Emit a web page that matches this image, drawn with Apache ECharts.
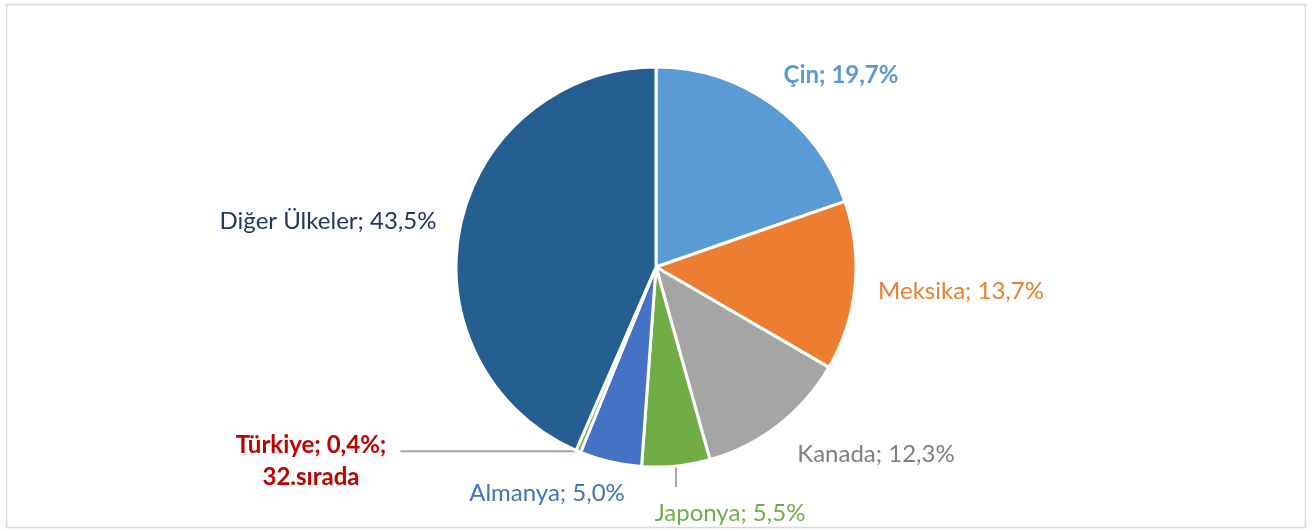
<!DOCTYPE html>
<html><head><meta charset="utf-8">
<script src="https://cdn.jsdelivr.net/npm/echarts@6/dist/echarts.min.js"></script>
<style>html,body{margin:0;padding:0;background:#fff}#c{width:1314px;height:531px}</style>
</head><body><div id="c"></div>
<script>
const categories = ['Çin', 'Meksika', 'Kanada', 'Japonya', 'Almanya', 'Türkiye', 'Diğer Ülkeler'];
const values = [19.7, 13.7, 12.3, 5.5, 5.0, 0.4, 43.5];
const extraText = ['', '', '', '', '', '32.sırada', ''];

const sliceColors = ['#5B9BD5', '#ED7D31', '#A5A5A5', '#70AD47', '#4472C4', '#70AD47', '#255E91'];
const labelColors = ['#5B9BD5', '#ED7D31', '#808080', '#70AD47', '#4472C4', '#C00000', '#203864'];
const labelBold = [true, false, false, false, false, true, false];
const labelPos = [[841, 75], [961, 291], [876, 454], [730, 513], [547, 493], [311, 461], [328, 221]];
// leader line: [dx, dy] from the slice edge point
const lineVec = [null, null, null, [0, 21], null, [-178, 0], null];

const fmt = v => v.toFixed(1).replace('.', ',') + '%';

const chart = echarts.init(document.getElementById('c'));
chart.setOption({
  animation: false,
  graphic: [{
    type: 'rect', shape: { x: 6.5, y: 4.5, width: 1299, height: 523 },
    style: { fill: 'none', stroke: '#D9D9D9', lineWidth: 1.5 }
  }],
  series: [{
    type: 'pie',
    center: [656, 267],
    radius: [0, 200],
    startAngle: 90,
    clockwise: true,
    avoidLabelOverlap: false,
    itemStyle: { borderColor: '#fff', borderWidth: 3 },
    label: {
      show: true, position: 'outside',
      fontFamily: 'Lato, "Open Sans", sans-serif', fontSize: 24, lineHeight: 32
    },
    labelLine: { show: true, length: 0, length2: 10, lineStyle: { color: '#A6A6A6', width: 2 } },
    labelLayout: function (p) {
      const i = p.dataIndex;
      const pos = labelPos[i];
      const out = { x: pos[0], y: pos[1], align: 'center', verticalAlign: 'middle' };
      if (lineVec[i] && p.labelLinePoints) {
        const s = p.labelLinePoints[0];
        out.labelLinePoints = [[s[0], s[1]], [s[0] + lineVec[i][0] / 2, s[1] + lineVec[i][1] / 2], [s[0] + lineVec[i][0], s[1] + lineVec[i][1]]];
      }
      return out;
    },
    data: categories.map((name, i) => ({
      name, value: values[i],
      itemStyle: { color: sliceColors[i] },
      label: {
        color: labelColors[i],
        fontWeight: labelBold[i] ? 'bold' : 'normal',
        formatter: extraText[i] ? (name + '; ' + fmt(values[i]) + ';\n' + extraText[i]) : (name + '; ' + fmt(values[i]))
      },
      labelLine: { show: !!lineVec[i] }
    }))
  }]
});
</script></body></html>
